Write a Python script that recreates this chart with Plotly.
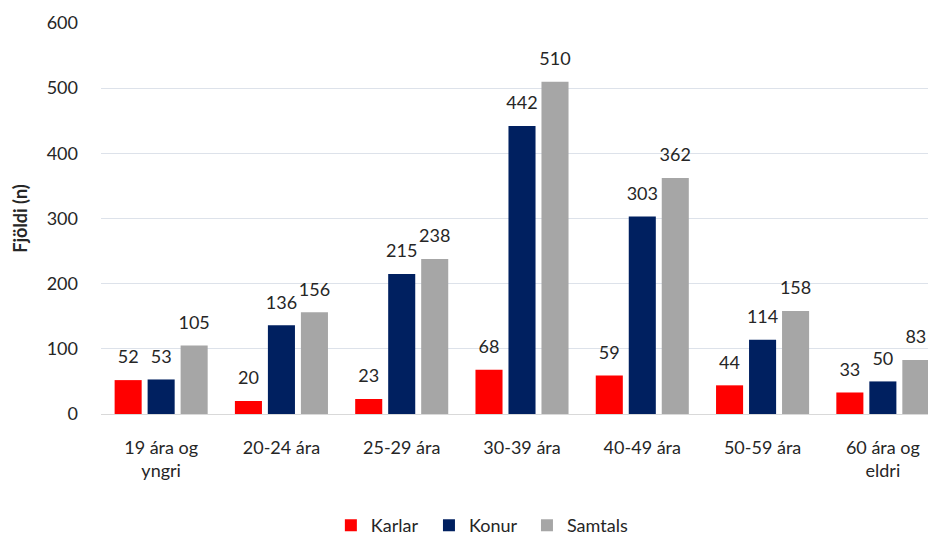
import plotly.graph_objects as go

categories = ["19 ára og<br>yngri", "20-24 ára", "25-29 ára", "30-39 ára", "40-49 ára", "50-59 ára", "60 ára og<br>eldri"]
karlar = [52, 20, 23, 68, 59, 44, 33]
konur = [53, 136, 215, 442, 303, 114, 50]
samtals = [105, 156, 238, 510, 362, 158, 83]
y_ticks = [0, 100, 200, 300, 400, 500, 600]

FONT = "Lato"
TXT = "#262626"
GAP = 0.177

series = [("Karlar", karlar, "#FF0000", "legend"),
          ("Konur", konur, "#002060", "legend2"),
          ("Samtals", samtals, "#A6A6A6", "legend3")]

fig = go.Figure()
for name, vals, col, lg in series:
    fig.add_trace(go.Bar(
        name=name, x=categories, y=vals, marker=dict(color=col, line=dict(width=0)),
        offsetgroup=name, legend=lg,
    ))
for name, vals, col, lg in series:
    fig.add_trace(go.Scatter(
        x=categories, y=vals, mode="markers+text", offsetgroup=name,
        text=[str(v) for v in vals], textposition="top center", cliponaxis=False,
        marker=dict(size=18, opacity=0, color=col),
        textfont=dict(family=FONT, size=18, color=TXT),
        showlegend=False, hoverinfo="skip",
    ))

leg_common = dict(orientation="h", xanchor="left", y=-0.238, yanchor="top",
                  font=dict(family=FONT, size=18, color=TXT), itemwidth=30,
                  bgcolor="rgba(0,0,0,0)")

fig.update_layout(
    width=936, height=533,
    margin=dict(l=93, r=1, t=15, b=127, autoexpand=False),
    paper_bgcolor="white", plot_bgcolor="white",
    barmode="group", bargap=GAP, bargroupgap=0.18,
    scattermode="group", scattergap=GAP,
    font=dict(family=FONT, size=18, color=TXT),
    showlegend=True,
    legend=dict(x=0.273, **leg_common),
    legend2=dict(x=0.3895, **leg_common),
    legend3=dict(x=0.5059, **leg_common),
    xaxis=dict(range=[-0.5, 6.5], showgrid=False, showline=True, linecolor="#D9D9D9", linewidth=1,
               ticks="", automargin=False, ticklabelstandoff=17,
               tickfont=dict(family=FONT, size=18, color=TXT)),
    yaxis=dict(range=[0, 600], tickvals=y_ticks, showgrid=True, gridcolor="#DDE2EA", gridwidth=1,
               zeroline=False, showline=False, ticks="", ticklabelstandoff=22, automargin=False,
               tickfont=dict(family=FONT, size=18, color=TXT),
               title=dict(text="<b>Fjöldi (n)</b>", font=dict(family=FONT, size=18, color=TXT), standoff=14)),
)

fig.write_html("out.html")
